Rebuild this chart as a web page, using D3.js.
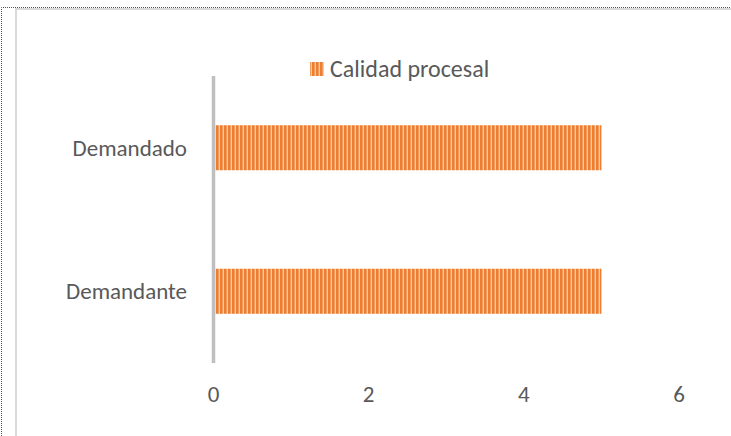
<!DOCTYPE html>
<html>
<head>
<meta charset="utf-8">
<script src="https://cdn.jsdelivr.net/npm/d3@7"></script>
<style>
  body { margin: 0; background: #fff; }
  text { font-family: Carlito, Calibri, Lato, sans-serif; fill: #595959; }
</style>
</head>
<body>
<div id="chart"></div>
<script>
// data
var categories = ["Demandado", "Demandante"];
var values = [5, 5];
var seriesName = "Calidad procesal";
var xTicks = [0, 2, 4, 6];

var svgWidth = 731;
var svgHeight = 436;

var svg = d3.select("#chart")
  .append("svg")
  .attr("width", svgWidth)
  .attr("height", svgHeight);

// frame: dotted outer line + light gray border
svg.append("path")
  .attr("d", "M1.5,436 V7.5 H731")
  .attr("fill", "none")
  .attr("stroke", "#555")
  .attr("stroke-width", 1)
  .attr("stroke-dasharray", "1,1");
svg.append("path")
  .attr("d", "M16,436 V9 H731")
  .attr("fill", "none")
  .attr("stroke", "#d9d9d9")
  .attr("stroke-width", 2);

// stripe pattern for the bars
var defs = svg.append("defs");
var pat = defs.append("pattern")
  .attr("id", "stripes")
  .attr("patternUnits", "userSpaceOnUse")
  .attr("width", 4)
  .attr("height", 10);
pat.append("rect").attr("width", 4).attr("height", 10).attr("fill", "#f8c9a6");
pat.append("rect").attr("width", 2.6).attr("height", 10).attr("fill", "#ed7d31");

// scales
var x = d3.scaleLinear().domain([0, 6]).range([213.5, 679]);
var y = d3.scaleBand()
  .domain(categories)
  .range([76, 363])
  .paddingInner(0.686)
  .paddingOuter(0.343);

// bars
svg.selectAll(".bar")
  .data(values)
  .enter().append("rect")
  .attr("class", "bar")
  .attr("x", x(0) + 2)
  .attr("y", function(d, i) { return y(categories[i]); })
  .attr("width", function(d) { return x(d) - x(0) - 2; })
  .attr("height", y.bandwidth())
  .attr("fill", "url(#stripes)");

// category labels
svg.selectAll(".cat")
  .data(categories)
  .enter().append("text")
  .attr("class", "cat")
  .attr("x", 187)
  .attr("y", function(d) { return y(d) + y.bandwidth() / 2; })
  .attr("dy", "0.35em")
  .attr("text-anchor", "end")
  .attr("font-size", "23px")
  .text(function(d) { return d; });

// vertical axis line
svg.append("line")
  .attr("x1", x(0)).attr("x2", x(0))
  .attr("y1", 76).attr("y2", 363)
  .attr("stroke", "#bfbfbf")
  .attr("stroke-width", 3.5);

// x tick labels
svg.selectAll(".tick")
  .data(xTicks)
  .enter().append("text")
  .attr("class", "tick")
  .attr("x", function(d) { return x(d); })
  .attr("y", 402)
  .attr("text-anchor", "middle")
  .attr("font-size", "23px")
  .text(function(d) { return d; });

// legend
svg.append("rect")
  .attr("x", 310).attr("y", 62)
  .attr("width", 14).attr("height", 14)
  .attr("fill", "url(#stripes)");
svg.append("text")
  .attr("x", 330)
  .attr("y", 77)
  .attr("font-size", "24px")
  .text(seriesName);
</script>
</body>
</html>
